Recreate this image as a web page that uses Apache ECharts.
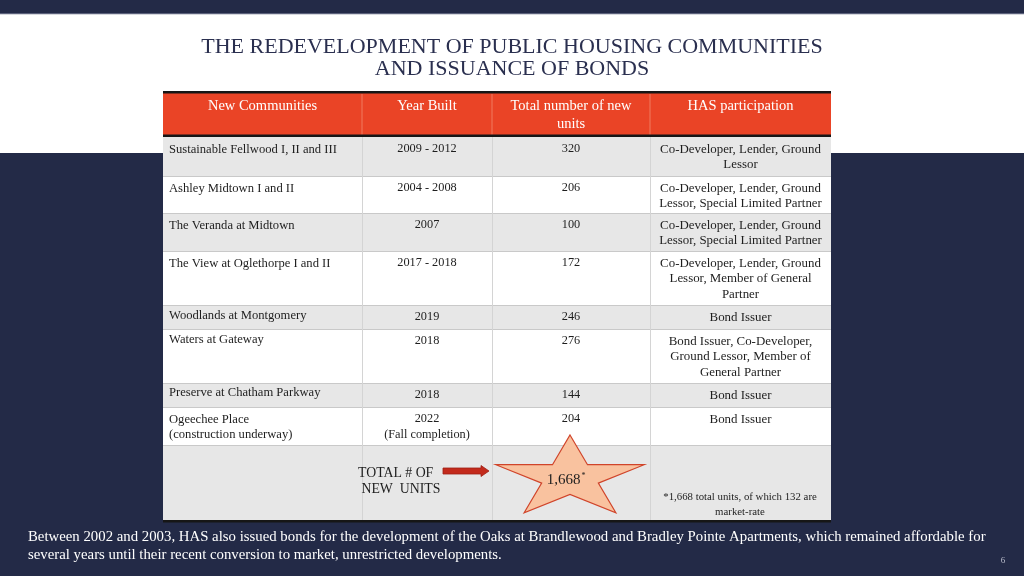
<!DOCTYPE html>
<html><head><meta charset="utf-8">
<script src="https://cdn.jsdelivr.net/npm/echarts@6/dist/echarts.min.js"></script>
<style>html,body{margin:0;padding:0;background:#232a47}#c{width:1024px;height:576px}</style>
</head><body><div id="c"></div>
<script>
// ---- content ----
const titleLines = ["THE REDEVELOPMENT OF PUBLIC HOUSING COMMUNITIES", "AND ISSUANCE OF BONDS"];
const headers = ["New Communities", "Year Built", "Total number of new\nunits", "HAS participation"];
const communities = [
  "Sustainable Fellwood I, II and III",
  "Ashley Midtown I and II",
  "The Veranda at Midtown",
  "The View at Oglethorpe I and II",
  "Woodlands at Montgomery",
  "Waters at Gateway",
  "Preserve at Chatham Parkway",
  "Ogeechee Place\n(construction underway)"
];
const years = ["2009 - 2012", "2004 - 2008", "2007", "2017 - 2018", "2019", "2018", "2018", "2022\n(Fall completion)"];
const units = [320, 206, 100, 172, 246, 276, 144, 204];
const participation = [
  "Co-Developer, Lender, Ground\nLessor",
  "Co-Developer, Lender, Ground\nLessor, Special Limited Partner",
  "Co-Developer, Lender, Ground\nLessor, Special Limited Partner",
  "Co-Developer, Lender, Ground\nLessor, Member of General\nPartner",
  "Bond Issuer",
  "Bond Issuer, Co-Developer,\nGround Lessor, Member of\nGeneral Partner",
  "Bond Issuer",
  "Bond Issuer"
];
const totalLabel = "TOTAL # OF\n NEW  UNITS";
const footnote = "*1,668 total units, of which 132 are\nmarket-rate";
const bottomNote = "Between 2002 and 2003, HAS also issued bonds for the development of the Oaks at Brandlewood and Bradley Pointe Apartments, which remained affordable for\nseveral years until their recent conversion to market, unrestricted developments.";
const pageNumber = "6";

// ---- layout ----
const NAVY = '#232a47', RED = '#ea4426', GREY = '#e7e7e7';
const FONT = '"Liberation Serif", "DejaVu Serif", serif';
const colX = [163, 362, 492, 650, 831];
const rowTop = [137, 176, 213, 251, 305, 329, 383, 407, 445, 520];
const col1Shift = [0, 0, 0, 0, -2, -2, -3, 0];

const total = units.reduce((a, b) => a + b, 0);
const g = [];
g.push({ type: 'rect', shape: { x: 0, y: 0, width: 1024, height: 576 }, style: { fill: NAVY } });
g.push({ type: 'rect', shape: { x: 0, y: 14, width: 1024, height: 139 }, style: { fill: '#ffffff' } });
g.push({ type: 'rect', shape: { x: 0, y: 13, width: 1024, height: 1.2 }, style: { fill: '#5a607a' } });

function txt(text, x, y, size, fill, align, extra) {
  return Object.assign({ type: 'text', x: x, y: y, style: Object.assign({
    text: text, fill: fill, font: size + 'px ' + FONT, fontSize: size, fontFamily: FONT,
    align: align, textAlign: align, verticalAlign: 'top', textVerticalAlign: 'top', lineHeight: Math.round(size * 1.3)
  }, extra || {}) });
}

// title
g.push(txt(titleLines[0], 512, 35, 22, '#2a2f4f', 'center', { lineHeight: 24 }));
g.push(txt(titleLines[1], 512, 57, 22, '#2a2f4f', 'center', { lineHeight: 24 }));

// header
g.push({ type: 'rect', shape: { x: colX[0], y: 93, width: colX[4] - colX[0], height: 43 }, style: { fill: RED } });
for (let c = 1; c < 4; c++) g.push({ type: 'line', shape: { x1: colX[c], y1: 94, x2: colX[c], y2: 135 }, style: { stroke: '#f07a5e', lineWidth: 1 } });
headers.forEach((h, c) => {
  g.push(txt(h, (colX[c] + colX[c + 1]) / 2, 97.5, 14.5, '#ffffff', 'center', { lineHeight: 18 }));
});

// body rows
const cols = [communities, years, units.map(String), participation];
for (let r = 0; r < rowTop.length - 1; r++) {
  const y0 = rowTop[r], h = rowTop[r + 1] - y0;
  g.push({ type: 'rect', shape: { x: colX[0], y: y0, width: colX[4] - colX[0], height: h }, style: { fill: r % 2 === 0 ? GREY : '#ffffff' } });
}
for (let r = 1; r < rowTop.length - 1; r++) {
  g.push({ type: 'line', shape: { x1: colX[0], y1: rowTop[r] + 0.5, x2: colX[4], y2: rowTop[r] + 0.5 }, style: { stroke: '#c9c9c9', lineWidth: 1 } });
}
for (let c = 1; c < 4; c++) {
  g.push({ type: 'line', shape: { x1: colX[c] + 0.5, y1: rowTop[0], x2: colX[c] + 0.5, y2: rowTop[rowTop.length - 1] }, style: { stroke: '#d4d4d4', lineWidth: 1 } });
}
for (let r = 0; r < communities.length; r++) {
  const y0 = rowTop[r] + 4.5;
  g.push(txt(cols[0][r], colX[0] + 6, y0 + col1Shift[r], 12.6, '#1e1e1e', 'left', { lineHeight: 15.5 }));
  for (let c = 1; c < 4; c++) {
    g.push(txt(cols[c][r], (colX[c] + colX[c + 1]) / 2, y0, c === 3 ? 12.9 : 12.3, '#1e1e1e', 'center', { lineHeight: 15.5 }));
  }
}
// thick rules
g.push({ type: 'rect', shape: { x: colX[0], y: 91, width: colX[4] - colX[0], height: 2.5 }, style: { fill: '#161616' } });
g.push({ type: 'rect', shape: { x: colX[0], y: 134.5, width: colX[4] - colX[0], height: 2.5 }, style: { fill: '#161616' } });
g.push({ type: 'rect', shape: { x: colX[0], y: 520, width: colX[4] - colX[0], height: 2.5 }, style: { fill: '#161616' } });

// total row
g.push(txt(totalLabel, 358, 465, 13.8, '#1e1e1e', 'left', { lineHeight: 16 }));
g.push({ type: 'polygon', shape: { points: [[443, 468], [481, 468], [481, 465.5], [489, 471], [481, 476.5], [481, 474], [443, 474]] },
  style: { fill: '#c32a1c', stroke: '#9e1f14', lineWidth: 0.8 } });
const cx = 570, cy = 478, rx = 78, ry = 43, inner = 0.382;
const pts = [];
for (let i = 0; i < 10; i++) {
  const a = -Math.PI / 2 + i * Math.PI / 5, k = i % 2 === 0 ? 1 : inner;
  pts.push([cx + Math.cos(a) * rx * k, cy + Math.sin(a) * ry * k]);
}
g.push({ type: 'polygon', shape: { points: pts }, style: { fill: '#f9c29f', stroke: '#d0442a', lineWidth: 1.2 } });
g.push({ type: 'text', x: 566, y: 480, style: {
  text: '{a|' + total.toLocaleString('en-US') + '}{s|*}', align: 'center', textAlign: 'center', verticalAlign: 'middle', textVerticalAlign: 'middle',
  rich: { a: { fontSize: 15, fontFamily: FONT, fill: '#1e1e1e', color: '#1e1e1e' }, s: { fontSize: 8, fontFamily: FONT, fill: '#1e1e1e', color: '#1e1e1e', verticalAlign: 'top', padding: [0, 0, 8, 1] } }
} });
g.push(txt(footnote, 740, 489.5, 10.8, '#1e1e1e', 'center', { lineHeight: 15 }));

// bottom note
g.push(txt(bottomNote, 28, 528.5, 14.8, '#ffffff', 'left', { lineHeight: 18 }));
g.push(txt(pageNumber, 1003, 555, 9, '#b9bccb', 'center'));

const chart = echarts.init(document.getElementById('c'), null, { renderer: 'canvas' });
chart.setOption({ backgroundColor: NAVY, animation: false, graphic: { elements: g } });
</script>
</body></html>
